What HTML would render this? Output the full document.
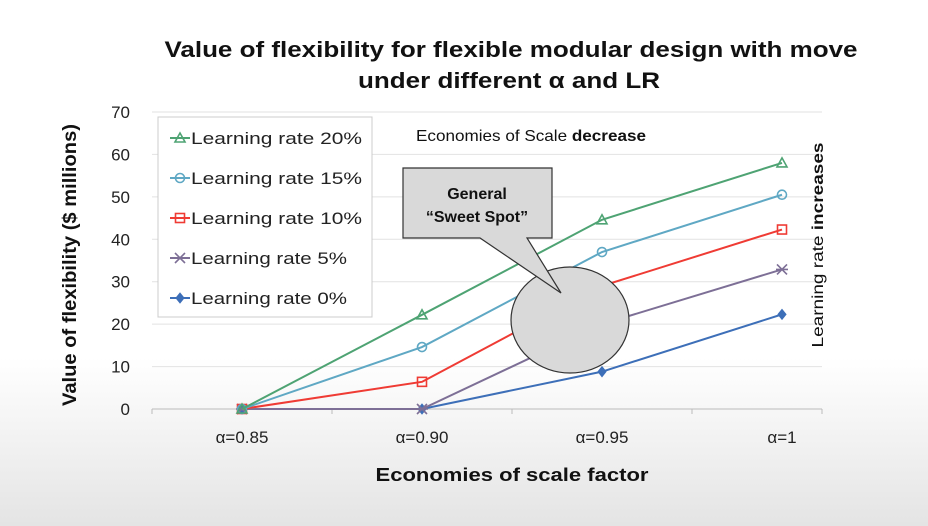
<!DOCTYPE html>
<html><head><meta charset="utf-8"><style>
body{margin:0;width:928px;height:526px;overflow:hidden;background:linear-gradient(#fff 0%,#fff 68%,#e4e4e4 100%);font-family:"Liberation Sans",sans-serif}
</style></head><body>
<svg id="chart" width="928" height="526" style="position:absolute;left:0;top:0">
<text x="511" y="57" text-anchor="middle" font-size="22" font-weight="bold" fill="#111" textLength="693" lengthAdjust="spacingAndGlyphs">Value of flexibility for flexible modular design with move</text>
<text x="509" y="88" text-anchor="middle" font-size="22" font-weight="bold" fill="#111" textLength="302" lengthAdjust="spacingAndGlyphs">under different α and LR</text>
<g id="grid"></g><g id="axes"></g><g id="series"></g>
<text x="76" y="265" text-anchor="middle" font-size="19" font-weight="bold" fill="#111" transform="rotate(-90 76 265)" textLength="282" lengthAdjust="spacingAndGlyphs">Value of flexibility ($ millions)</text>
<text x="512" y="481" text-anchor="middle" font-size="18" font-weight="bold" fill="#111" textLength="273" lengthAdjust="spacingAndGlyphs">Economies of scale factor</text>
<text x="416" y="141" font-size="16" fill="#111" textLength="230" lengthAdjust="spacingAndGlyphs">Economies of Scale <tspan font-weight="bold">decrease</tspan></text>
<text x="823" y="245" text-anchor="middle" font-size="16" fill="#111" transform="rotate(-90 823 245)" textLength="205" lengthAdjust="spacingAndGlyphs">Learning rate <tspan font-weight="bold">increases</tspan></text>
<ellipse cx="570" cy="320" rx="59" ry="53" fill="#d9d9d9" stroke="#333" stroke-width="1.2"/>
<path d="M403 168 H552 V238 H527 L561 293 L480 238 H403 Z" fill="#d9d9d9" stroke="#333" stroke-width="1.2"/>
<text x="477" y="199" text-anchor="middle" font-size="16" font-weight="bold" fill="#111">General</text>
<text x="477" y="222" text-anchor="middle" font-size="16" font-weight="bold" fill="#111">“Sweet Spot”</text>
<g id="legend"></g>
</svg>
<script>
const categories=["α=0.85","α=0.90","α=0.95","α=1"];
const yTicks=[0,10,20,30,40,50,60,70];
const seriesNames=["Learning rate 20%","Learning rate 15%","Learning rate 10%","Learning rate 5%","Learning rate 0%"];
const lr20=[0,22.2,44.6,58];
const lr15=[0,14.6,37,50.5];
const lr10=[0,6.4,29,42.3];
const lr5=[0,0,20,32.9];
const lr0=[0,0,8.8,22.3];
const values=[lr20,lr15,lr10,lr5,lr0];
const colors=["#4ea373","#5fa8c4","#ef3b34","#7d6f96","#3d6fb8"];
const markers=["tri","circ","sq","x","dia"];
const NS="http://www.w3.org/2000/svg";
const X0=152,X1=822,Y0=409,Y70=112;
const xs=i=>242+i*180;
const ys=v=>Y0-(v/70)*(Y0-Y70);
function mk(t,a,p){const e=document.createElementNS(NS,t);for(const k in a)e.setAttribute(k,a[k]);p.appendChild(e);return e;}
const grid=document.getElementById('grid'),axes=document.getElementById('axes'),ser=document.getElementById('series'),leg=document.getElementById('legend');
yTicks.forEach(t=>{
 const l=mk('line',{x1:X0,x2:X1,y1:ys(t),y2:ys(t),stroke:t===0?'#bbb':'#e2e2e2','stroke-width':1},grid);
 
 
 const tx=mk('text',{x:130,y:ys(t)+6,'text-anchor':'end','font-size':17,fill:'#222'},axes);tx.textContent=t;
 
 
});
categories.forEach((c,i)=>{
 const tx=mk('text',{x:xs(i),y:443,'text-anchor':'middle','font-size':17,fill:'#222'},axes);tx.textContent=c;
 
 
 mk('line',{x1:xs(i)-90,x2:xs(i)-90,y1:Y0,y2:Y0+5,stroke:'#bbb'},axes);
});
mk('line',{x1:X1,x2:X1,y1:Y0,y2:Y0+5,stroke:'#bbb'},axes);
function marker(type,x,y,c,g){
 let e;
 if(type==='tri')e=mk('path',{d:`M${x} ${y-5} L${x+5} ${y+4} L${x-5} ${y+4} Z`,fill:'none',stroke:c,'stroke-width':1.6},g);
 else if(type==='circ')e=mk('circle',{cx:x,cy:y,r:4.5,fill:'none',stroke:c,'stroke-width':1.6},g);
 else if(type==='sq')e=mk('rect',{x:x-4.5,y:y-4.5,width:9,height:9,fill:'none',stroke:c,'stroke-width':1.6},g);
 else if(type==='x')e=mk('path',{d:`M${x-5} ${y-5}L${x+5} ${y+5}M${x-5} ${y+5}L${x+5} ${y-5}M${x-6} ${y}H${x+6}`,stroke:c,'stroke-width':1.6},g);
 else e=mk('path',{d:`M${x} ${y-5}L${x+4} ${y}L${x} ${y+5}L${x-4} ${y}Z`,fill:c,stroke:c},g);
 return e;
}
values.slice().reverse().forEach((vals,ri)=>{
 const i=values.length-1-ri;
 const g=mk('g',{},ser);
 
 
 const p=mk('polyline',{points:vals.map((v,j)=>xs(j)+','+ys(v)).join(' '),fill:'none',stroke:colors[i],'stroke-width':2},g);
 
 
 vals.forEach((v,j)=>{const m=marker(markers[i],xs(j),ys(v),colors[i],g);
  
  });
});
mk('rect',{x:158,y:117,width:214,height:200,fill:'#fff',stroke:'#ccc'},leg);
seriesNames.forEach((n,i)=>{
 const y=138+i*40;
 const g=mk('g',{},leg);
 
 
 mk('line',{x1:170,x2:190,y1:y,y2:y,stroke:colors[i],'stroke-width':2},g);
 marker(markers[i],180,y,colors[i],g);
 const t=mk('text',{x:191,y:y+6,'font-size':17,fill:'#222'},g);t.textContent=n;
 t.setAttribute('textLength', n.length>16?171:156);
 t.setAttribute('lengthAdjust','spacingAndGlyphs');
});
</script>
</body></html>
